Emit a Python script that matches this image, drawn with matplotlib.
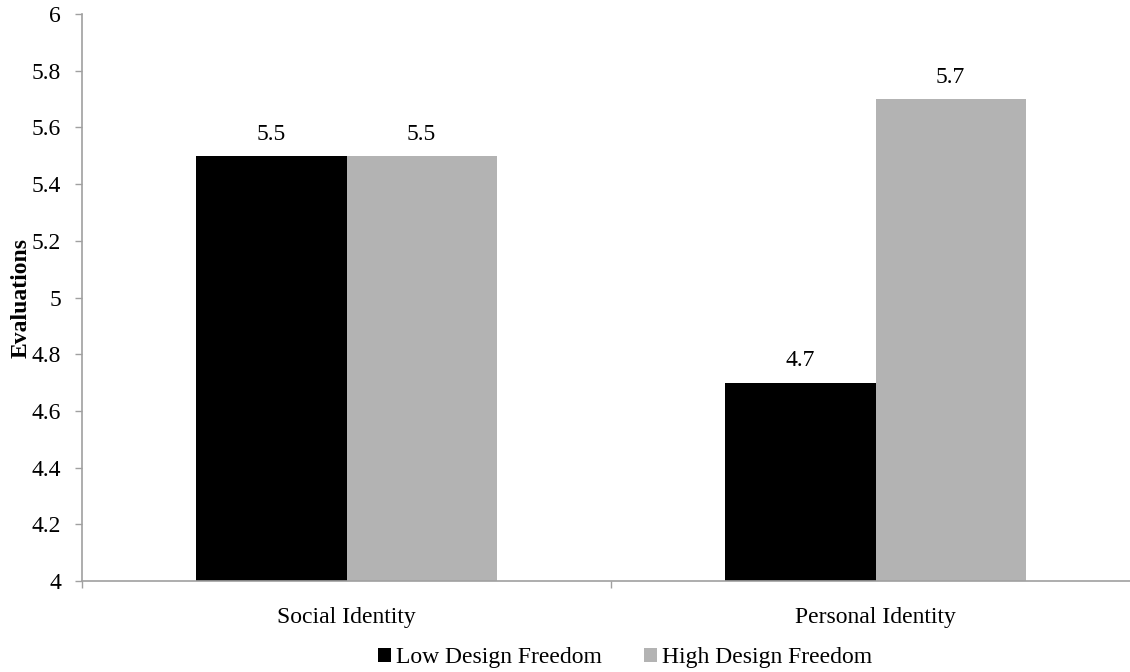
import numpy as np
import matplotlib.pyplot as plt

# data
categories = ['Social Identity', 'Personal Identity']
low_freedom = [5.5, 4.7]
high_freedom = [5.5, 5.7]
series_names = ['Low Design Freedom', 'High Design Freedom']
yticks = [4, 4.2, 4.4, 4.6, 4.8, 5, 5.2, 5.4, 5.6, 5.8, 6]

plt.rcParams['font.family'] = ['Liberation Serif', 'DejaVu Serif']
FS = 17

fig = plt.figure(figsize=(11.3, 6.72), dpi=100)
ax = fig.add_axes([82 / 1130, 91 / 672, 1058 / 1130, 567 / 672])

x = np.arange(len(categories))
w = 0.284
b1 = ax.bar(x - w / 2, np.array(low_freedom) - 4, w, bottom=4, color='black', label=series_names[0])
b2 = ax.bar(x + w / 2, np.array(high_freedom) - 4, w, bottom=4, color='#b3b3b3', label=series_names[1])

for bars, vals in [(b1, low_freedom), (b2, high_freedom)]:
    for r, v in zip(bars, vals):
        ax.annotate(f'{v:g}', (r.get_x() + r.get_width() / 2, v), xytext=(0, 8),
                    textcoords='offset points', ha='center', va='bottom', fontsize=FS)

ax.set_xlim(-0.5, 1.5)
ax.set_ylim(4, 6)
ax.set_yticks(yticks)
ax.set_yticklabels([f'{t:g}' for t in yticks], fontsize=FS)

ax.set_xticks([-0.5, 0.5, 1.5])
ax.set_xticklabels([])
ax.set_xticks(x, minor=True)
ax.set_xticklabels(categories, minor=True, fontsize=FS)
ax.tick_params(axis='x', which='minor', length=0, pad=18.5)
ax.tick_params(axis='x', which='major', length=5, color='#a0a0a0', width=1)
ax.tick_params(axis='y', length=5, color='#a0a0a0', width=1, pad=10)

for s in ['top', 'right']:
    ax.spines[s].set_visible(False)
for s in ['left', 'bottom']:
    ax.spines[s].set_color('#a0a0a0')
    ax.spines[s].set_linewidth(1.2)

ax.set_ylabel('Evaluations', fontsize=FS, fontweight='bold', labelpad=0)

fig.legend(loc='center', bbox_to_anchor=(625 / 1130, 14 / 672), ncol=2, frameon=False,
           fontsize=FS, handlelength=0.55, handleheight=0.55, handletextpad=0.2, columnspacing=1.8)

fig.savefig('out.png', dpi=100)
